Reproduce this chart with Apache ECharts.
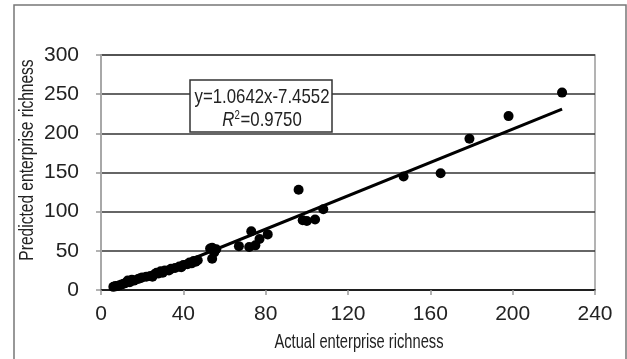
<!DOCTYPE html>
<html>
<head>
<meta charset="utf-8">
<script src="https://cdn.jsdelivr.net/npm/echarts@6/dist/echarts.min.js"></script>
<style>
  html, body { margin: 0; padding: 0; background: #fff; }
  #chart { width: 627px; height: 359px; }
</style>
</head>
<body>
<div id="chart"></div>
<script>
// Actual vs predicted enterprise richness, one point per site
const actual = [
  6, 7, 8, 9, 10, 11, 12, 13, 14, 15, 16, 18, 19, 20, 22, 24, 25, 26, 27, 28,
  29, 30, 31, 33, 34, 36, 38, 39, 40, 42, 43, 44, 45, 46, 47,
  53, 54, 54, 55, 56,
  67, 72, 73, 75, 77, 81,
  96, 98, 100, 104, 108,
  147, 165, 179, 198, 224
];
const predicted = [
  4, 5, 5, 6, 7, 8, 9, 12, 10, 13, 12, 14, 15, 16, 17, 18, 17, 20, 22, 21,
  24, 22, 25, 25, 27, 28, 30, 29, 32, 33, 35, 34, 37, 36, 38,
  53, 54, 40, 48, 52,
  56, 55, 75, 57, 65, 71,
  128, 89, 88, 90, 103,
  145, 149, 193, 222, 252
];

// Linear fit reported on the chart
const slope = 1.0642;
const intercept = -7.4552;
const rSquared = 0.9750;
const fitRange = [7, 224];

// Axis ticks
const xTicks = [0, 40, 80, 120, 160, 200, 240];
const yTicks = [0, 50, 100, 150, 200, 250, 300];

const FONT = "'Liberation Sans', Arial, sans-serif";
const INK = '#222';

const points = actual.map((x, i) => [x, predicted[i]]);
const fitLine = fitRange.map(x => [x, slope * x + intercept]);

const chart = echarts.init(document.getElementById('chart'), null, { renderer: 'canvas' });

// narrow text helper (condensed look)
function narrowText(x, y, text, size, sx, rotation) {
  return {
    type: 'text', x: x, y: y, rotation: rotation || 0, scaleX: sx, z: 21,
    style: { text: text, fill: INK, font: size + 'px ' + FONT, textAlign: 'center', textVerticalAlign: 'middle' }
  };
}

chart.setOption({
  animation: false,
  backgroundColor: '#fff',
  grid: {
    left: 101, right: 32, top: 55, bottom: 69,
    show: true, borderColor: '#9a9a9a', borderWidth: 1.5, backgroundColor: 'transparent'
  },
  xAxis: {
    type: 'value',
    min: xTicks[0], max: xTicks[xTicks.length - 1], interval: xTicks[1] - xTicks[0],
    axisLine: { show: true, onZero: false, lineStyle: { color: '#111', width: 1.5 } },
    axisTick: { show: true, length: 5, lineStyle: { color: '#999', width: 1.5 } },
    axisLabel: { color: INK, fontSize: 21, fontFamily: FONT, margin: 14 },
    splitLine: { show: false }
  },
  yAxis: {
    type: 'value',
    min: yTicks[0], max: yTicks[yTicks.length - 1], interval: yTicks[1] - yTicks[0],
    axisLine: { show: true, onZero: false, lineStyle: { color: '#a8a8a8', width: 2 } },
    axisTick: { show: true, length: 5, lineStyle: { color: '#999', width: 1.5 } },
    axisLabel: { color: INK, fontSize: 21, fontFamily: FONT, margin: 22 },
    splitLine: { show: true, lineStyle: { color: '#333', width: 1.5 } }
  },
  series: [
    {
      type: 'scatter',
      data: points,
      symbol: 'circle',
      symbolSize: 10,
      itemStyle: { color: '#000', opacity: 1 },
      z: 3
    },
    {
      type: 'line',
      data: fitLine,
      symbol: 'none',
      lineStyle: { color: '#000', width: 3 },
      z: 4
    }
  ],
  graphic: [
    {
      type: 'rect',
      shape: { x: 14, y: 5, width: 612, height: 370 },
      style: { fill: 'none', stroke: '#777', lineWidth: 1.5 },
      silent: true, z: 0
    },
    narrowText(27, 160, 'Predicted enterprise richness', 21, 0.74, Math.PI / 2),
    narrowText(359, 342, 'Actual enterprise richness', 21, 0.7),
    {
      type: 'rect',
      shape: { x: 190, y: 80, width: 142, height: 52 },
      style: { fill: '#fff', stroke: '#333', lineWidth: 1.5 },
      z: 20
    },
    narrowText(262, 97, 'y=' + slope.toFixed(4) + 'x' + intercept.toFixed(4), 21, 0.8),
    {
      type: 'text',
      x: 262, y: 120, scaleX: 0.8, z: 21,
      style: {
        text: '{r|R}{s|2}{n|=' + rSquared.toFixed(4) + '}',
        textAlign: 'center', textVerticalAlign: 'middle',
        rich: {
          r: { fontFamily: FONT, fontSize: 21, fontStyle: 'italic', fill: INK },
          s: { fontFamily: FONT, fontSize: 12, fill: INK, verticalAlign: 'top', padding: [0, 1, 8, 0] },
          n: { fontFamily: FONT, fontSize: 21, fill: INK }
        }
      }
    }
  ]
});
</script>
</body>
</html>
